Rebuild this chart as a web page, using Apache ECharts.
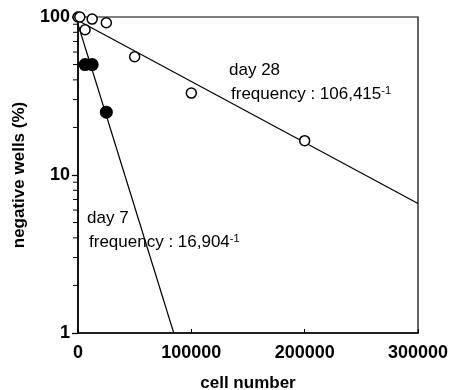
<!DOCTYPE html>
<html>
<head>
<meta charset="utf-8">
<script src="https://cdn.jsdelivr.net/npm/echarts@6/dist/echarts.min.js"></script>
<style>
html,body{margin:0;padding:0;background:#fff;}
#chart{width:449px;height:390px;}
</style>
</head>
<body>
<div id="chart"></div>
<script>
// ---- data ----
const xTickValues = [0, 100000, 200000, 300000];
const yTickValues = [1, 10, 100];
const yMinorTickValues = [2, 3, 4, 5, 6, 7, 8, 9, 20, 30, 40, 50, 60, 70, 80, 90];

// day 28 (open circles)
const day28X = [0, 1600, 6250, 12500, 25000, 50000, 100000, 200000];
const day28Y = [100, 100, 83, 97, 92, 56, 33, 16.5];
// day 7 (filled circles)
const day7X = [6250, 12500, 25000];
const day7Y = [50, 50, 25];

// fitted lines (end points)
const day28FitX = [0, 300000];
const day28FitY = [95, 6.6];
const day7FitX = [0, 84500];
const day7FitY = [90, 1];

const labelDay28 = 'day 28';
const freqDay28 = 'frequency : 106,415';
const labelDay7 = 'day 7';
const freqDay7 = 'frequency : 16,904';

const pairs = (xs, ys) => xs.map((x, i) => [x, ys[i]]);

const chart = echarts.init(document.getElementById('chart'), null, {renderer: 'canvas'});
const FONT = '"Liberation Sans", Arial, Helvetica, sans-serif';

const option = {
  backgroundColor: '#fff',
  animation: false,
  grid: {
    left: 78, right: 31, top: 17, bottom: 57,
    containLabel: false, outerBoundsMode: 'none',
    show: true, borderColor: '#000', borderWidth: 1.2, backgroundColor: 'transparent'
  },
  xAxis: {
    type: 'value', min: 0, max: 300000, interval: 100000,
    name: 'cell number', nameLocation: 'middle', nameGap: 42,
    nameTextStyle: {fontFamily: FONT, fontWeight: 'bold', fontSize: 17, color: '#000'},
    axisLine: {show: true, lineStyle: {color: '#000', width: 1.6}},
    axisTick: {show: true, inside: true, length: 4, lineStyle: {color: '#000', width: 1}},
    axisLabel: {fontFamily: FONT, fontWeight: 'bold', fontSize: 18, color: '#000', margin: 11,
      formatter: v => xTickValues.includes(v) ? String(v) : ''},
    splitLine: {show: false}
  },
  yAxis: {
    type: 'log', logBase: 10, min: 1, max: 100,
    name: 'negative wells (%)', nameLocation: 'middle', nameGap: 50, nameRotate: 90,
    nameTextStyle: {fontFamily: FONT, fontWeight: 'bold', fontSize: 17, color: '#000'},
    axisLine: {show: true, lineStyle: {color: '#000', width: 1.6}},
    axisTick: {show: true, inside: false, length: 6, lineStyle: {color: '#000', width: 1.3}},
    minorTick: {show: false},
    axisLabel: {fontFamily: FONT, fontWeight: 'bold', fontSize: 18, color: '#000', margin: 8,
      formatter: v => yTickValues.includes(v) ? String(v) : ''},
    splitLine: {show: false}
  },
  series: [
    {
      type: 'custom', clip: false, silent: true, z: 1,
      data: yMinorTickValues.map(v => [0, v]),
      renderItem: (params, api) => {
        const p = api.coord([api.value(0), api.value(1)]);
        return {type: 'line', shape: {x1: p[0] - 5, y1: p[1], x2: p[0] - 0.5, y2: p[1]},
          style: {stroke: '#000', lineWidth: 1}};
      }
    },
    {
      type: 'line', data: pairs(day28FitX, day28FitY), symbol: 'none',
      lineStyle: {color: '#000', width: 1.2}, z: 2
    },
    {
      type: 'line', data: pairs(day7FitX, day7FitY), symbol: 'none',
      lineStyle: {color: '#000', width: 1.2}, z: 2
    },
    {
      type: 'scatter', data: pairs(day28X, day28Y), symbol: 'circle', symbolSize: 10,
      itemStyle: {color: '#fff', borderColor: '#000', borderWidth: 1.5, opacity: 1}, z: 3, clip: false
    },
    {
      type: 'scatter', data: pairs(day7X, day7Y), symbol: 'circle', symbolSize: 13,
      itemStyle: {color: '#000', borderColor: '#000', borderWidth: 0, opacity: 1}, z: 4, clip: false
    }
  ],
  graphic: [
    {type: 'text', left: 229, top: 62, style: {text: labelDay28, fontFamily: FONT, fontSize: 17, fill: '#000'}},
    {type: 'text', left: 231, top: 85, style: {
      text: '{a|' + freqDay28 + '}{s|-1}', fontFamily: FONT, fill: '#000',
      rich: {a: {fontSize: 17, fontFamily: FONT, fill: '#000'}, s: {fontSize: 11, fontFamily: FONT, fill: '#000', verticalAlign: 'top', padding: [0, 0, 8, 0]}}
    }},
    {type: 'text', left: 87, top: 210, style: {text: labelDay7, fontFamily: FONT, fontSize: 17, fill: '#000'}},
    {type: 'text', left: 89, top: 233, style: {
      text: '{a|' + freqDay7 + '}{s|-1}', fontFamily: FONT, fill: '#000',
      rich: {a: {fontSize: 17, fontFamily: FONT, fill: '#000'}, s: {fontSize: 11, fontFamily: FONT, fill: '#000', verticalAlign: 'top', padding: [0, 0, 8, 0]}}
    }}
  ]
};
chart.setOption(option);
</script>
</body>
</html>
